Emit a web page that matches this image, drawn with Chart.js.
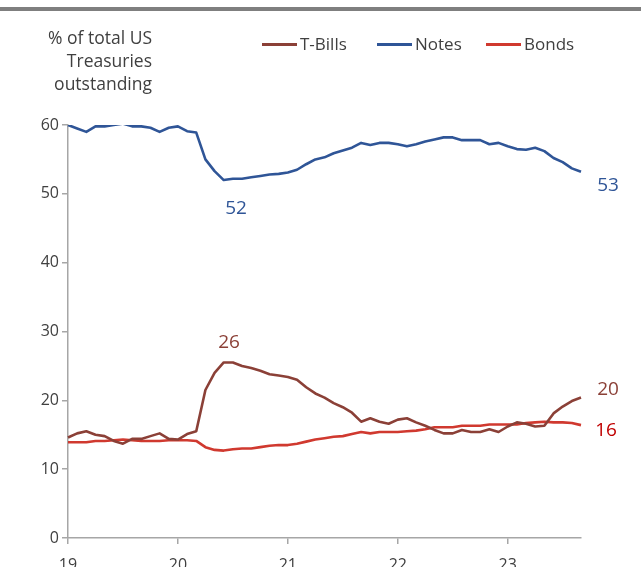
<!DOCTYPE html>
<html>
<head>
<meta charset="utf-8">
<script src="https://cdn.jsdelivr.net/npm/chart.js@4"></script>
<style>
  html, body { margin: 0; padding: 0; background: #fff; }
  #wrap { position: relative; width: 641px; height: 567px; overflow: hidden; font-family: "Open Sans", sans-serif; }
  #chart { position: absolute; left: 0; top: 0; }
  .bar { position: absolute; left: 0; top: 7px; width: 641px; height: 4px; background: #7f7f7f; }
  .ytitle { position: absolute; right: 489px; top: 26px; text-align: right; font-size: 17.5px; line-height: 23px; color: #404040; }
  .leg { position: absolute; top: 33px; font-size: 17px; line-height: 22px; color: #404040; white-space: nowrap; }
  .leg i { display: inline-block; width: 35px; height: 3px; vertical-align: middle; margin-right: 3px; position: relative; top: -1px; }
  .note { position: absolute; font-size: 19px; line-height: 19px; transform: translate(-50%, -50%); white-space: nowrap; }
</style>
</head>
<body>
<div id="wrap">
  <canvas id="chart" width="641" height="567"></canvas>
  <div class="bar"></div>
  <div class="ytitle">% of total US<br>Treasuries<br>outstanding</div>
  <div class="leg" style="left:262px"><i style="background:#8b4037"></i>T-Bills</div>
  <div class="leg" style="left:377px"><i style="background:#2f5597"></i>Notes</div>
  <div class="leg" style="left:486px"><i style="background:#d0392f"></i>Bonds</div>
  <div class="note" style="left:236px; top:207px; color:#2f5597">52</div>
  <div class="note" style="left:608px; top:184px; color:#2f5597">53</div>
  <div class="note" style="left:229px; top:341px; color:#8b4037">26</div>
  <div class="note" style="left:608px; top:388px; color:#8b4037">20</div>
  <div class="note" style="left:606px; top:429px; color:#c00000">16</div>
</div>
<script>
// monthly, Jan 2019 - Sep 2023
const startYear = 2019;
const monthCount = 57;

const tBills = [
  14.6, 15.2, 15.5, 15.0, 14.8, 14.1, 13.7, 14.4, 14.4, 14.8, 15.2, 14.4,
  14.3, 15.1, 15.5, 21.5, 24.0, 25.5, 25.5, 25.0, 24.7, 24.3, 23.8, 23.6,
  23.4, 23.0, 21.9, 21.0, 20.4, 19.6, 19.0, 18.2, 16.9, 17.4, 16.9, 16.6,
  17.2, 17.4, 16.8, 16.3, 15.7, 15.2, 15.2, 15.7, 15.4, 15.4, 15.8, 15.4,
  16.2, 16.8, 16.6, 16.2, 16.3, 18.1, 19.1, 19.9, 20.4
];
const notes = [
  60.0, 59.5, 59.0, 59.8, 59.8, 60.0, 60.2, 59.8, 59.8, 59.6, 59.0, 59.6,
  59.8, 59.1, 58.9, 55.0, 53.3, 52.0, 52.2, 52.2, 52.4, 52.6, 52.8, 52.9,
  53.1, 53.5, 54.3, 55.0, 55.3, 55.9, 56.3, 56.7, 57.4, 57.1, 57.4, 57.4,
  57.2, 56.9, 57.2, 57.6, 57.9, 58.2, 58.2, 57.8, 57.8, 57.8, 57.2, 57.4,
  56.9, 56.5, 56.4, 56.7, 56.2, 55.2, 54.6, 53.7, 53.2
];
const bonds = [
  13.9, 13.9, 13.9, 14.1, 14.1, 14.2, 14.3, 14.2, 14.1, 14.1, 14.1, 14.2,
  14.2, 14.2, 14.1, 13.2, 12.8, 12.7, 12.9, 13.0, 13.0, 13.2, 13.4, 13.5,
  13.5, 13.7, 14.0, 14.3, 14.5, 14.7, 14.8, 15.1, 15.4, 15.2, 15.4, 15.4,
  15.4, 15.5, 15.6, 15.8, 16.1, 16.1, 16.1, 16.3, 16.3, 16.3, 16.5, 16.5,
  16.5, 16.5, 16.7, 16.8, 16.9, 16.8, 16.8, 16.7, 16.4
];
const yearLabels = ['19', '20', '21', '22', '23'];
const yTicks = [0, 10, 20, 30, 40, 50, 60];

const months = [];
for (let i = 0; i < monthCount; i++) {
  const y = startYear + Math.floor(i / 12);
  const m = (i % 12) + 1;
  months.push(y + '-' + String(m).padStart(2, '0'));
}

const axisGrey = '#a6a6a6';
const tickFont = { family: 'Open Sans', size: 16 };

function line(label, data, color) {
  return {
    label: label,
    data: data,
    borderColor: color,
    backgroundColor: color,
    borderWidth: 2.6,
    pointRadius: 0,
    tension: 0,
    borderJoinStyle: 'round',
  };
}

new Chart(document.getElementById('chart'), {
  type: 'line',
  data: {
    labels: months,
    datasets: [
      line('T-Bills', tBills, '#8b4037'),
      line('Notes', notes, '#2f5597'),
      line('Bonds', bonds, '#d0392f'),
    ],
  },
  options: {
    responsive: false,
    animation: false,
    layout: { padding: { top: 125, right: 60, left: 0, bottom: 0 } },
    plugins: { legend: { display: false }, tooltip: { enabled: false } },
    scales: {
      x: {
        type: 'category',
        offset: false,
        afterBuildTicks: (scale) => {
          scale.ticks = scale.ticks.filter((t) => t.value % 12 === 0);
        },
        afterFit: (scale) => { scale.height = 29; },
        border: { color: axisGrey, width: 1.5 },
        grid: { display: true, drawOnChartArea: false, color: axisGrey, lineWidth: 1.5, tickLength: 6 },
        ticks: {
          autoSkip: false,
          maxRotation: 0,
          padding: 12,
          color: '#404040',
          font: tickFont,
          callback: (value) => yearLabels[Math.floor(value / 12)],
        },
      },
      y: {
        min: 0,
        max: 60,
        afterBuildTicks: (scale) => {
          scale.ticks = yTicks.map((v) => ({ value: v }));
        },
        afterFit: (scale) => { scale.width = 68; },
        border: { color: axisGrey, width: 1.5 },
        grid: { display: true, drawOnChartArea: false, color: axisGrey, lineWidth: 1.5, tickLength: 6 },
        ticks: { padding: 3, color: '#404040', font: tickFont },
      },
    },
  },
});
</script>
</body>
</html>
